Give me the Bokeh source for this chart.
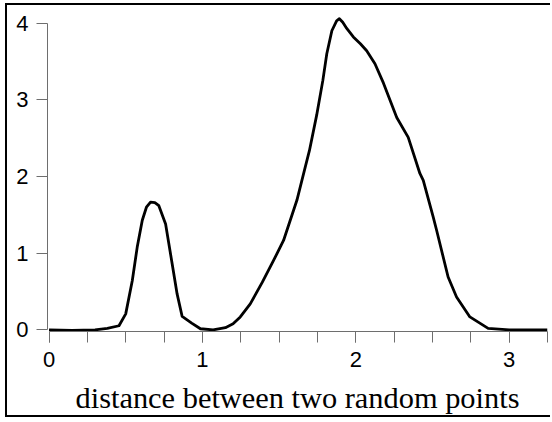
from bokeh.plotting import figure
from bokeh.models import FixedTicker, Range1d
from bokeh.embed import file_html
from bokeh.resources import INLINE

# distance values (x) and density (y)
dist = [0, 0.15, 0.30, 0.38, 0.456, 0.50, 0.543, 0.575, 0.608, 0.635, 0.662, 0.69,
        0.716, 0.76, 0.803, 0.835, 0.868, 0.93, 0.987, 1.07, 1.15, 1.2, 1.247, 1.312,
        1.39, 1.464, 1.529, 1.616, 1.67, 1.698, 1.745, 1.785, 1.811, 1.844, 1.875,
        1.893, 1.915, 1.941, 1.984, 2.03, 2.071, 2.125, 2.18, 2.267, 2.342, 2.418,
        2.44, 2.505, 2.527, 2.602, 2.657, 2.744, 2.863, 3.0, 3.25]
density = [0, -0.005, 0.0, 0.02, 0.055, 0.21, 0.645, 1.08, 1.43, 1.60, 1.667, 1.66,
           1.62, 1.38, 0.86, 0.47, 0.176, 0.09, 0.016, 0, 0.03, 0.08, 0.17, 0.34,
           0.62, 0.906, 1.167, 1.69, 2.12, 2.34, 2.8, 3.25, 3.6, 3.9, 4.03,
           4.057, 4.01, 3.93, 3.82, 3.73, 3.64, 3.47, 3.22, 2.77, 2.51, 2.04,
           1.95, 1.47, 1.30, 0.69, 0.43, 0.17, 0.02, 0, 0]

x_major = [0, 1, 2, 3]
x_minor = [0.25 * i for i in range(14)]
y_major = [0, 1, 2, 3, 4]
x_label = "distance between two random points"

p = figure(width=545, height=414, output_backend="svg", toolbar_location=None,
           x_range=Range1d(-0.01, 3.25), y_range=Range1d(-0.02, 4.125),
           min_border_left=40, min_border_right=5, min_border_top=8,
           min_border_bottom=88)
p.outline_line_color = None
p.grid.visible = False
p.background_fill_color = "white"
p.border_fill_color = "white"
# thin black frame on the left, top and bottom of the picture
p.styles = {"margin-left": "5px", "margin-top": "3px",
            "border-left": "2px solid black", "border-top": "2px solid black",
            "border-bottom": "2px solid black"}

p.line(dist, density, line_color="black", line_width=2.8, line_join="round")

axis_color = "#6e6e6e"
xa = p.xaxis[0]
xa.ticker = FixedTicker(ticks=x_major, minor_ticks=x_minor)
xa.bounds = (0, 3.25)
xa.axis_line_color = axis_color
xa.major_tick_line_color = axis_color
xa.minor_tick_line_color = axis_color
xa.major_tick_in = 0
xa.major_tick_out = 11
xa.minor_tick_in = 0
xa.minor_tick_out = 11
xa.major_label_text_font = "Liberation Sans"
xa.major_label_text_font_size = "22px"
xa.major_label_text_color = "black"
xa.major_label_standoff = 9
xa.axis_label = x_label
xa.axis_label_text_font = "Liberation Serif"
xa.axis_label_text_font_size = "30.4px"
xa.axis_label_text_font_style = "normal"
xa.axis_label_text_color = "black"
xa.axis_label_standoff = 11

ya = p.yaxis[0]
ya.ticker = FixedTicker(ticks=y_major, minor_ticks=[])
ya.bounds = (0, 4)
ya.axis_line_color = axis_color
ya.major_tick_line_color = axis_color
ya.minor_tick_line_color = None
ya.major_tick_in = 0
ya.major_tick_out = 11
ya.major_label_text_font = "Liberation Sans"
ya.major_label_text_font_size = "22px"
ya.major_label_text_color = "black"
ya.major_label_standoff = 8

open("out.html", "w").write(file_html(p, INLINE))
